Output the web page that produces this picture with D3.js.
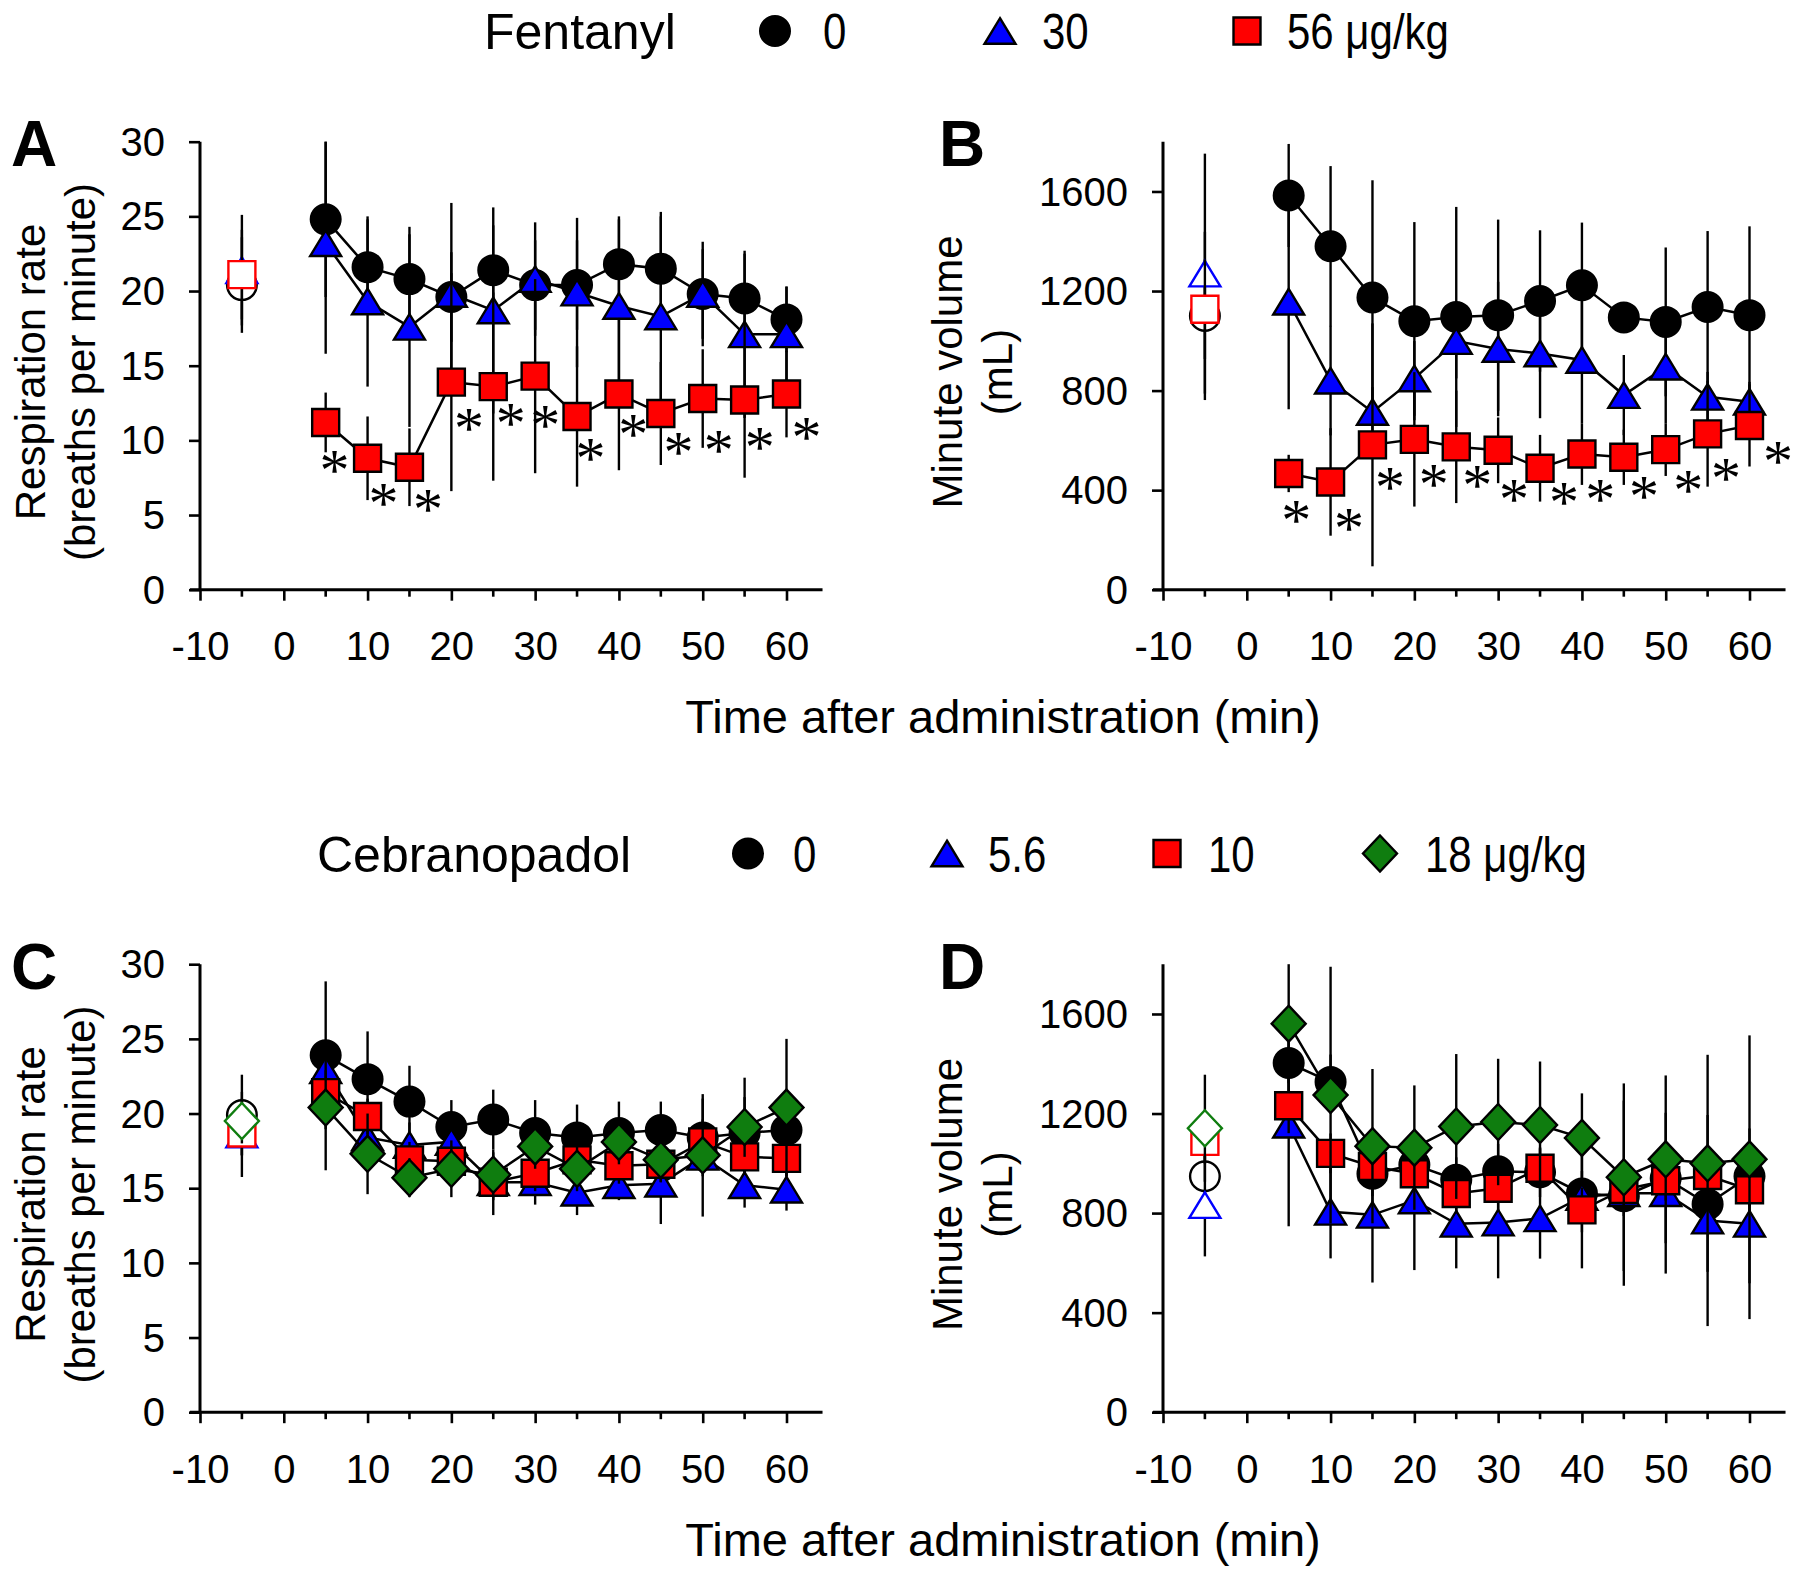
<!DOCTYPE html>
<html><head><meta charset="utf-8">
<script src="https://cdn.jsdelivr.net/npm/d3@7"></script>
<style>
body{margin:0;background:#fff}
svg text{font-family:"Liberation Sans",Arial,sans-serif;fill:#000}
</style>
</head><body>
<svg id="c" width="1800" height="1575"></svg>
<script>
// ---------- DATA ----------
const times = [-5, 5, 10, 15, 20, 25, 30, 35, 40, 45, 50, 55, 60];
const xMajorTicks = [-10, 0, 10, 20, 30, 40, 50, 60];
const xMinorTicks = [-5, 5, 15, 25, 35, 45, 55];
const rrTicks = [0, 5, 10, 15, 20, 25, 30];
const mvTicks = [0, 400, 800, 1200, 1600];

// Fentanyl – respiration rate (breaths/min)
const fenRR0    = [20.4, 24.8, 21.6, 20.8, 19.6, 21.4, 20.4, 20.4, 21.8, 21.5, 19.8, 19.5, 18.1];
const fenRR0sd  = [3.2, 5.2, 3.2, 3.0, 3.0, 3.0, 3.0, 3.0, 3.0, 3.5, 3.0, 3.0, 2.2];
const fenRR30   = [21.4, 23.2, 19.3, 17.6, 19.8, 18.7, 20.8, 19.9, 19.0, 18.3, 19.8, 17.1, 17.1];
const fenRR30sd = [3.7, 7.4, 5.7, 6.7, 6.1, 6.9, 3.8, 5.0, 6.0, 7.0, 3.5, 5.6, 3.2];
const fenRR56   = [21.1, 11.2, 8.8, 8.2, 13.9, 13.6, 14.3, 11.6, 13.1, 11.8, 12.8, 12.7, 13.1];
const fenRR56sd = [3.0, 2.0, 2.8, 2.6, 7.3, 6.3, 6.5, 4.7, 5.1, 3.45, 3.3, 5.2, 2.9];
const fenRRStarT = [6.05, 11.9, 17.2, 22.1, 27.1, 31.2, 36.6, 41.7, 47.1, 51.9, 56.8, 62.4];
const fenRRStarV = [8.5, 6.3, 5.9, 11.3, 11.6, 11.5, 9.3, 10.9, 9.7, 9.8, 10.0, 10.7];

// Fentanyl – minute volume (mL)
const fenMV0    = [1100, 1584, 1380, 1174, 1079, 1096, 1103, 1160, 1223, 1094, 1076, 1136, 1103];
const fenMV0sd  = [338, 207, 322, 471, 398, 442, 384, 284, 252, 40, 299, 305, 357];
const fenMV30   = [1270, 1157, 840, 714, 849, 999, 967, 949, 923, 782, 896, 775, 755];
const fenMV30sd = [482, 432, 220, 100, 150, 150, 270, 260, 254, 161, 227, 100, 80];
const fenMV56   = [1127, 467, 433, 582, 604, 574, 560, 488, 545, 532, 563, 626, 660];
const fenMV56sd = [200, 75, 216, 488, 270, 226, 132, 134, 124, 111, 106, 212, 165];
const fenMVStarT = [5.9, 12.2, 17.1, 22.3, 27.5, 31.9, 37.85, 42.2, 47.4, 52.7, 57.2, 63.4];
const fenMVStarV = [308, 278, 441, 452, 448, 394, 381, 394, 404, 430, 475, 545];

// Cebranopadol – respiration rate
const cebRR0     = [19.9, 23.9, 22.3, 20.8, 19.1, 19.6, 18.7, 18.4, 18.7, 18.9, 18.4, 18.7, 18.9];
const cebRR0sd   = [2.7, 4.95, 3.2, 2.4, 1.8, 2.0, 2.2, 2.2, 2.1, 1.9, 2.6, 3.7, 1.5];
const cebRR5_6   = [18.6, 22.9, 18.4, 17.9, 18.1, 15.4, 15.4, 14.7, 15.2, 15.3, 17.1, 15.2, 14.9];
const cebRR5_6sd = [2.85, 1.5, 1.5, 1.5, 1.2, 2.2, 1.5, 1.5, 1.0, 2.7, 1.0, 1.5, 1.4];
const cebRR10    = [18.7, 21.4, 19.8, 16.9, 16.8, 15.4, 16.0, 16.9, 16.5, 16.6, 18.1, 17.1, 17.0];
const cebRR10sd  = [1.5, 1.5, 1.2, 1.2, 1.0, 1.2, 1.2, 1.2, 1.2, 1.2, 1.5, 1.2, 1.2];
const cebRR18    = [19.5, 20.4, 17.3, 15.7, 16.3, 15.9, 17.8, 16.3, 18.1, 16.9, 17.2, 19.1, 20.4];
const cebRR18sd  = [1.5, 4.2, 2.7, 1.3, 1.9, 1.5, 1.5, 1.5, 1.5, 1.5, 4.1, 2.0, 4.6];

// Cebranopadol – minute volume
const cebMV0     = [948, 1403, 1327, 958, 994, 934, 968, 964, 879, 868, 940, 836, 948];
const cebMV0sd   = [120, 150, 110, 90, 100, 90, 110, 100, 90, 80, 100, 110, 120];
const cebMV5_6   = [832, 1155, 805, 793, 851, 757, 762, 779, 865, 880, 880, 770, 757];
const cebMV5_6sd = [206, 408, 187, 272, 280, 179, 224, 162, 287, 372, 323, 424, 383];
const cebMV10    = [1088, 1231, 1040, 987, 958, 879, 900, 980, 813, 895, 930, 951, 894];
const cebMV10sd  = [90, 110, 80, 90, 70, 80, 90, 80, 90, 70, 80, 90, 90];
const cebMV18    = [1141, 1561, 1274, 1069, 1063, 1148, 1166, 1154, 1102, 944, 1016, 1000, 1016];
const cebMV18sd  = [215, 239, 516, 310, 250, 291, 254, 255, 179, 377, 337, 436, 498];

const fenLegend = ["0", "30", "56 μg/kg"];
const cebLegend = ["0", "5.6", "10", "18 μg/kg"];

// ---------- STYLE ----------
const COL = {black:"#000000", blue:"#0000ff", red:"#ff0000", green:"#0f7d0f"};
const svg = d3.select("#c");

function shapePath(shape){
  switch(shape){
    case "circle": return d3.arc()({innerRadius:0,outerRadius:14.8,startAngle:0,endAngle:2*Math.PI});
    case "triangle": { const w=15.5,h=12.8; return `M0,${-h}L${w},${h}L${-w},${h}Z`; }
    case "square": { const s=13.5; return `M${-s},${-s}H${s}V${s}H${-s}Z`; }
    case "diamond": { const w=17,h=18; return `M0,${-h}L${w},0L0,${h}L${-w},0Z`; }
  }
}

function panel(cfg){
  const g = svg.append("g");
  const x = d3.scaleLinear().domain([-10,60]).range([cfg.x0, cfg.x0+586.5]);
  const y = d3.scaleLinear().domain([0,cfg.yMax]).range([cfg.yBottom, cfg.yTop]);
  // y axis
  const ya = g.append("g").attr("transform",`translate(${cfg.x0},0)`)
    .call(d3.axisLeft(y).tickValues(cfg.yTicks).tickSize(11).tickSizeOuter(0).tickPadding(24).tickFormat(d3.format("d")));
  ya.select(".domain").attr("stroke-width",3).attr("d",`M0,${cfg.yBottom}V${cfg.yTop}`);
  ya.selectAll(".tick line").attr("stroke-width",2.6);
  ya.selectAll(".tick text").attr("font-size",40).attr("dy","0.34em");
  // x axis
  const xa = g.append("g").attr("transform",`translate(0,${cfg.yBottom})`)
    .call(d3.axisBottom(x).tickValues(xMajorTicks).tickSize(11).tickSizeOuter(0).tickPadding(31).tickFormat(d3.format("d")));
  xa.select(".domain").attr("stroke-width",3).attr("d",`M${cfg.x0-10},0H${x(64.3)}`);
  xa.selectAll(".tick line").attr("stroke-width",2.6);
  xa.selectAll(".tick text").attr("font-size",40).text(d=>d<0?"-"+Math.abs(d):d);
  xa.selectAll(".minor").data(xMinorTicks).enter().append("line").attr("class","minor")
    .attr("x1",d=>x(d)).attr("x2",d=>x(d)).attr("y1",0).attr("y2",7).attr("stroke","#000").attr("stroke-width",2.6);

  // series
  cfg.series.forEach(s=>{
    const pts = times.map((t,i)=>({t, v:s.v[i], sd:s.sd[i], i}));
    const sg = g.append("g");
    sg.selectAll(".err").data(pts).enter().append("line")
      .attr("x1",d=>x(d.t)).attr("x2",d=>x(d.t))
      .attr("y1",d=>y(Math.max(0,d.v-d.sd))).attr("y2",d=>y(Math.min(cfg.yMax,d.v+d.sd)))
      .attr("stroke","#000").attr("stroke-width",2.4);
    sg.append("path").datum(pts.filter(d=>d.t>0))
      .attr("d",d3.line().x(d=>x(d.t)).y(d=>y(d.v)))
      .attr("fill","none").attr("stroke","#000").attr("stroke-width",2.5);
    sg.selectAll(".mk").data(pts).enter().append("path")
      .attr("transform",d=>`translate(${x(d.t)},${y(d.v)})`)
      .attr("d",shapePath(s.shape))
      .attr("fill",d=>d.t<0?"#fff":s.color)
      .attr("stroke",d=>d.t<0?s.color:"#000")
      .attr("stroke-width",2.4);
  });
  // stars
  if(cfg.starT){
    g.selectAll(".star").data(cfg.starT.map((t,i)=>({t,v:cfg.starV[i]}))).enter().append("text")
      .attr("x",d=>x(d.t)).attr("y",d=>y(d.v)+27)
      .attr("text-anchor","middle").attr("font-size",60)
      .style("font-family",'"Liberation Serif","Times New Roman",serif')
      .text("*");
  }
  // panel letter
  g.append("text").attr("x",cfg.letterX).attr("y",cfg.letterY).attr("font-size",64).attr("font-weight","bold").text(cfg.letter);
  // y title
  cfg.titles.forEach((t,k)=>{
    g.append("text").attr("transform",`translate(${cfg.titleX[k]},${cfg.titleY}) rotate(-90)`)
      .attr("text-anchor","middle").attr("font-size",42).text(t);
  });
}

function legend(items, labels, title, titleX, baseY){
  const g = svg.append("g");
  g.append("text").attr("x",titleX).attr("y",baseY).attr("font-size",50).text(title);
  items.forEach((it,i)=>{
    g.append("path").attr("transform",`translate(${it.mx},${baseY-18})`).attr("d",shapePath(it.shape))
      .attr("fill",it.color).attr("stroke","#000").attr("stroke-width",2.4);
    g.append("text").attr("transform",`translate(${it.tx},${baseY}) scale(0.84,1)`)
      .attr("font-size",50).text(labels[i]);
  });
}

const fenSeriesRR = [
  {v:fenRR0, sd:fenRR0sd, shape:"circle", color:COL.black},
  {v:fenRR30, sd:fenRR30sd, shape:"triangle", color:COL.blue},
  {v:fenRR56, sd:fenRR56sd, shape:"square", color:COL.red}];
const fenSeriesMV = [
  {v:fenMV0, sd:fenMV0sd, shape:"circle", color:COL.black},
  {v:fenMV30, sd:fenMV30sd, shape:"triangle", color:COL.blue},
  {v:fenMV56, sd:fenMV56sd, shape:"square", color:COL.red}];
const cebSeriesRR = [
  {v:cebRR0, sd:cebRR0sd, shape:"circle", color:COL.black},
  {v:cebRR5_6, sd:cebRR5_6sd, shape:"triangle", color:COL.blue},
  {v:cebRR10, sd:cebRR10sd, shape:"square", color:COL.red},
  {v:cebRR18, sd:cebRR18sd, shape:"diamond", color:COL.green}];
const cebSeriesMV = [
  {v:cebMV0, sd:cebMV0sd, shape:"circle", color:COL.black},
  {v:cebMV5_6, sd:cebMV5_6sd, shape:"triangle", color:COL.blue},
  {v:cebMV10, sd:cebMV10sd, shape:"square", color:COL.red},
  {v:cebMV18, sd:cebMV18sd, shape:"diamond", color:COL.green}];

const OFF = 822.5;
const rrTitles = ["Respiration rate","(breaths per minute)"];
const mvTitles = ["Minute volume","(mL)"];

panel({x0:200, yTop:141.7, yBottom:589.7, yMax:30, yTicks:rrTicks, series:fenSeriesRR,
  starT:fenRRStarT, starV:fenRRStarV, letter:"A", letterX:11, letterY:166,
  titles:rrTitles, titleX:[45,95], titleY:372});
panel({x0:1163, yTop:141.7, yBottom:589.7, yMax:1800, yTicks:mvTicks, series:fenSeriesMV,
  starT:fenMVStarT, starV:fenMVStarV, letter:"B", letterX:939, letterY:166,
  titles:mvTitles, titleX:[962,1012], titleY:372});
panel({x0:200, yTop:141.7+OFF, yBottom:589.7+OFF, yMax:30, yTicks:rrTicks, series:cebSeriesRR,
  letter:"C", letterX:11, letterY:166+OFF, titles:rrTitles, titleX:[45,95], titleY:372+OFF});
panel({x0:1163, yTop:141.7+OFF, yBottom:589.7+OFF, yMax:1800, yTicks:mvTicks, series:cebSeriesMV,
  letter:"D", letterX:939, letterY:166+OFF, titles:mvTitles, titleX:[962,1012], titleY:372+OFF});

// x titles
[733, 733+OFF].forEach(yb=>{
  svg.append("text").attr("x",1003).attr("y",yb).attr("text-anchor","middle").attr("font-size",47)
    .text("Time after administration (min)");
});

legend([
  {shape:"circle", color:COL.black, mx:775, tx:823},
  {shape:"triangle", color:COL.blue, mx:1000, tx:1042},
  {shape:"square", color:COL.red, mx:1247, tx:1287}], fenLegend, "Fentanyl", 484, 49);
legend([
  {shape:"circle", color:COL.black, mx:748, tx:793},
  {shape:"triangle", color:COL.blue, mx:947, tx:988},
  {shape:"square", color:COL.red, mx:1167, tx:1208},
  {shape:"diamond", color:COL.green, mx:1380, tx:1425}], cebLegend, "Cebranopadol", 317, 49+OFF);
</script>
</body></html>
